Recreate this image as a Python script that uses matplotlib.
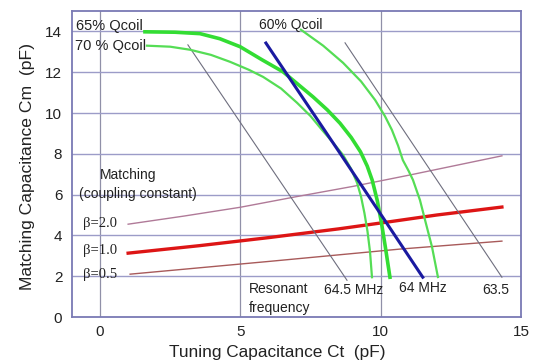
import matplotlib
matplotlib.use("Agg")
import matplotlib.pyplot as plt

# ---- data ----
x_ticks = [0, 5, 10, 15]
y_ticks = [0, 2, 4, 6, 8, 10, 12, 14]

# Q-coil curves (Ct, Cm)
q65_ct = [1.60, 2.67, 3.56, 4.27, 4.99, 5.77, 6.52, 7.12, 7.59, 8.10, 8.55, 8.95, 9.28, 9.52, 9.70, 9.88, 10.03, 10.17, 10.33]
q65_cm = [13.98, 13.96, 13.89, 13.64, 13.25, 12.61, 12.02, 11.33, 10.79, 10.15, 9.50, 8.80, 8.10, 7.40, 6.70, 5.70, 4.60, 3.40, 1.95]

q70_ct = [1.67, 2.50, 3.21, 3.95, 4.63, 5.30, 5.81, 6.45, 7.02, 7.50, 7.91, 8.30, 8.66, 8.95, 9.16, 9.30, 9.42, 9.53, 9.62, 9.69]
q70_cm = [13.30, 13.25, 13.10, 12.85, 12.51, 12.12, 11.77, 11.20, 10.50, 9.85, 9.17, 8.55, 7.94, 7.25, 6.57, 5.90, 5.10, 4.20, 3.20, 1.95]

q60_ct = [7.16, 7.95, 8.66, 9.30, 9.80, 10.15, 10.40, 10.62, 10.79, 11.00, 11.15, 11.40, 11.58, 11.83, 12.04]
q60_cm = [14.08, 13.30, 12.46, 11.55, 10.64, 9.85, 9.17, 8.40, 7.69, 7.15, 6.72, 5.73, 4.76, 3.43, 1.96]

# 64 MHz design line (blue)
f64_ct = [5.91, 8.55, 11.50]
f64_cm = [13.43, 8.03, 1.95]

# other resonant frequency lines
f645_ct = [3.13, 8.80]
f645_cm = [13.34, 1.80]
f635_ct = [8.73, 14.32]
f635_cm = [13.44, 1.95]

# matching (coupling constant) lines
b20_ct = [1.00, 3.00, 5.00, 7.00, 9.00, 11.00, 14.32]
b20_cm = [4.55, 4.95, 5.38, 5.90, 6.40, 6.95, 7.90]
b10_ct = [1.00, 3.56, 6.06, 8.50, 10.22, 12.00, 14.32]
b10_cm = [3.13, 3.50, 3.90, 4.32, 4.65, 5.00, 5.39]
b05_ct = [1.07, 6.06, 10.69, 14.32]
b05_cm = [2.10, 2.73, 3.33, 3.72]

# ---- figure ----
fig = plt.figure(figsize=(5.41, 3.63), dpi=100)
ax = fig.add_axes([0.1331, 0.1267, 0.8299, 0.8430])
ax.set_xlim(-1, 15)
ax.set_ylim(0, 15)

grid_c = "#9c9cc8"
spine_c = "#7a7ab4"
for v in [0, 5, 10]:
    ax.axvline(v, color="#9090a8", lw=0.9, zorder=0)
for v in [2, 4, 6, 8, 10, 12, 14]:
    ax.axhline(v, color=grid_c, lw=1.0, zorder=0)
for s in ax.spines.values():
    s.set_color(spine_c)
    s.set_linewidth(1.3)

ax.set_xticks(x_ticks)
ax.set_yticks(y_ticks)
ax.tick_params(length=0, labelsize=11)
ax.tick_params(axis="x", pad=6)
ax.tick_params(axis="y", pad=7)
for lab in ax.get_xticklabels() + ax.get_yticklabels():
    lab.set_fontfamily("Liberation Sans")
    lab.set_color("#222222")

ff = "Liberation Sans"
ax.plot(b20_ct, b20_cm, color="#b07a98", lw=1.0)
ax.plot(b05_ct, b05_cm, color="#a85a5a", lw=1.0)
ax.plot(b10_ct, b10_cm, color="#dd1515", lw=2.4)

ax.plot(f645_ct, f645_cm, color="#6e6e7e", lw=0.8)
ax.plot(f635_ct, f635_cm, color="#6e6e7e", lw=0.8)

ax.plot(q70_ct, q70_cm, color="#55dd55", lw=1.6)
ax.plot(q60_ct, q60_cm, color="#55dd55", lw=1.6)
ax.plot(q65_ct, q65_cm, color="#33dd33", lw=2.6)
ax.plot(f64_ct, f64_cm, color="#1a1aa0", lw=2.2)

# labels inside axes
tc = "#222222"
ax.text(-0.85, 14.25, "65% Qcoil", fontsize=10.5, family=ff, color=tc, va="center")
ax.text(-0.9, 13.3, "70 % Qcoil", fontsize=10.5, family=ff, color=tc, va="center")
ax.text(5.65, 14.3, "60% Qcoil", fontsize=10, family=ff, color=tc, va="center")
ax.text(0.0, 6.95, "Matching", fontsize=10, family=ff, color=tc, va="center")
ax.text(-0.75, 6.05, "(coupling constant)", fontsize=10, family=ff, color=tc, va="center")
sf = "Liberation Serif"
ax.text(-0.6, 4.6, "β=2.0", fontsize=10.5, family=sf, color=tc, va="center")
ax.text(-0.6, 3.25, "β=1.0", fontsize=10.5, family=sf, color=tc, va="center")
ax.text(-0.6, 2.1, "β=0.5", fontsize=10.5, family=sf, color=tc, va="center")
ax.text(5.3, 1.35, "Resonant", fontsize=10, family=ff, color=tc, va="center")
ax.text(5.3, 0.45, "frequency", fontsize=10, family=ff, color=tc, va="center")
ax.text(9.05, 1.3, "64.5 MHz", fontsize=10, family=ff, color=tc, ha="center", va="center")
ax.text(11.5, 1.4, "64 MHz", fontsize=10, family=ff, color=tc, ha="center", va="center")
ax.text(14.1, 1.3, "63.5", fontsize=10, family=ff, color=tc, ha="center", va="center")

fig.text(277 / 541, 1 - 352 / 363, "Tuning Capacitance Ct  (pF)", fontsize=12.4,
         family=ff, color=tc, ha="center", va="center")
fig.text(28 / 541, 1 - 166 / 363, "Matching Capacitance Cm  (pF)", fontsize=12.6,
         family=ff, color=tc, ha="center", va="center", rotation=90)

fig.savefig("out.png", dpi=100)
